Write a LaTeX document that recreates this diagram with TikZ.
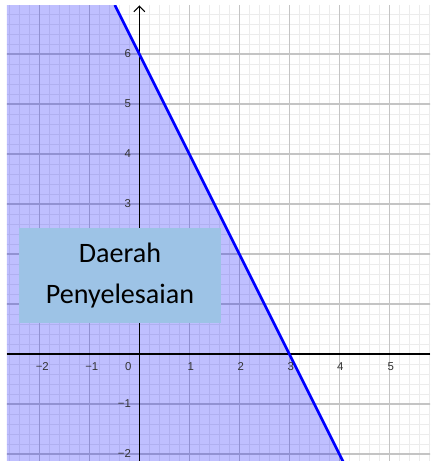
\documentclass[tikz,border=0pt]{standalone}
\usepackage{fontspec}
\newfontfamily\axisfont{Liberation Sans}
\newfontfamily\boxfont{Carlito}
\usetikzlibrary{arrows.meta, positioning}
\definecolor{gridmajorcol}{HTML}{C4C4C4}
\definecolor{gridminorcol}{HTML}{ECECEC}
\definecolor{regionblue}{HTML}{0000FF}
\definecolor{boxblue}{HTML}{9DC3E6}
\definecolor{ticktext}{HTML}{333333}
\tikzset{
	gridminor/.style={
			draw=gridminorcol,
			line width=0.5pt
		},
	gridmajor/.style={
			draw=gridmajorcol,
			line width=0.8pt
		},
	axisline/.style={
			draw=black,
			line width=0.6pt
		},
	boundaryline/.style={
			draw=regionblue,
			line width=1.5pt
		},
	shaded/.style={
			fill=regionblue,
			fill opacity=0.25
		},
	regionbox/.style={
			shape=rectangle,
			fill=boxblue,
			minimum width=40.4mm,
			minimum height=19mm,
			inner sep=0pt,
			align=center,
			font=\fontsize{16}{23}\boxfont
		}
}
\tikzset{
	xtick/.style={anchor=north, inner sep=0pt, text=ticktext, font=\fontsize{6.5}{7}\axisfont},
	ytick/.style={anchor=east, inner sep=0pt, text=ticktext, font=\fontsize{6.5}{7}\axisfont}
}

\begin{document}
\begin{tikzpicture}

  \useasboundingbox (-2.786,-2.14) rectangle (5.814,7.08);

  % plot area corners and line ends
  \coordinate (xl) at (-2.646,0);
  \coordinate (xr) at (5.814,0);
  \coordinate (yb) at (0,-2.14);
  \coordinate (yt) at (0,6.97);
  \coordinate (lt) at (-0.49,6.98);
  \coordinate (lb) at (4.08,-2.16);

  \begin{scope}
    \clip (-2.646,-2.14) rectangle (5.814,6.96);
    \draw[gridminor, step=0.2] (-3,-3) grid (6,8);
    \draw[gridmajor, step=1] (-3,-3) grid (6,8);
    \fill[shaded] (-2.7,7) -- (lt) -- (lb) -- (-2.7,-2.2) -- cycle;
  \end{scope}

  \draw[axisline] (xl) -- (xr);
  \draw[axisline, -{Straight Barb[length=1.1mm,width=2.2mm]}] (yb) -- (yt);

  \begin{scope}
    \clip (-2.646,-2.14) rectangle (5.814,6.96);
    \draw[boundaryline] (lt) -- (lb);
  \end{scope}

  \node[xtick] (tx1) at (-1.94,-0.16) {−2};
  \node[xtick] (tx2) at (-0.95,-0.16) {−1};
  \node[xtick] (tx3) at (-0.22,-0.16) {0};
  \node[xtick] (tx4) at (1.03,-0.16) {1};
  \node[xtick] (tx5) at (2.03,-0.16) {2};
  \node[xtick] (tx6) at (3.03,-0.16) {3};
  \node[xtick] (tx7) at (4.02,-0.16) {4};
  \node[xtick] (tx8) at (5.03,-0.16) {5};

  \node[ytick] (ty1) at (-0.16,-2) {−2};
  \node[ytick] (ty2) at (-0.16,-1) {−1};
  \node[ytick] (ty5) at (-0.16,3) {3};
  \node[ytick] (ty6) at (-0.16,4) {4};
  \node[ytick] (ty7) at (-0.16,5) {5};
  \node[ytick] (ty8) at (-0.16,6) {6};

  \node[regionbox] (region) at (-0.386,1.57) {Daerah\\Penyelesaian};

\end{tikzpicture}
\end{document}
